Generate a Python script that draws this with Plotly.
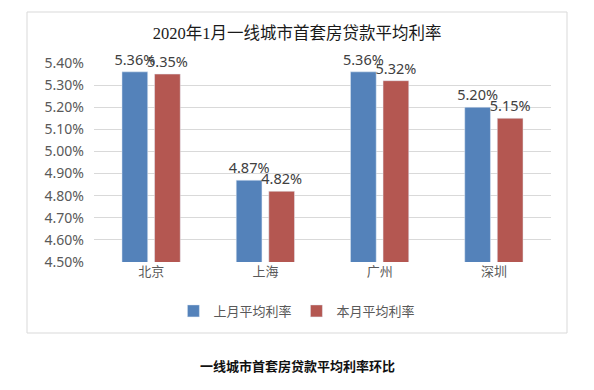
import plotly.graph_objects as go

cities = ["北京", "上海", "广州", "深圳"]
last_month = [5.36, 4.87, 5.36, 5.20]
this_month = [5.35, 4.82, 5.32, 5.15]
series_names = ["上月平均利率", "本月平均利率"]
title_text = "2020年1月一线城市首套房贷款平均利率"
caption_text = "一线城市首套房贷款平均利率环比"

sans = "Noto Sans, Noto Sans CJK SC, sans-serif"
cjk = "Noto Sans CJK SC, sans-serif"

fig = go.Figure()
for name, vals, color in [(series_names[0], last_month, "#5482BA"),
                          (series_names[1], this_month, "#B45751")]:
    fig.add_trace(go.Bar(
        x=cities, y=vals, name=name, marker_color=color,
        text=[f"{v:.2f}%" for v in vals], textposition="outside",
        textfont=dict(family=sans, size=14.5, color="#404040"),
        cliponaxis=False, textangle=0, constraintext="none",
    ))

fig.update_layout(
    width=594, height=390,
    margin=dict(l=94, r=43, t=63, b=128),
    paper_bgcolor="white", plot_bgcolor="white",
    barmode="group", bargap=0.43, bargroupgap=0.21,
    title=dict(text=title_text, x=0.5, xanchor="center", y=1 - 33 / 390, yanchor="middle",
               font=dict(family="Liberation Serif, Noto Sans CJK SC, serif", size=16.5, color="#1a1a1a")),
    yaxis=dict(range=[4.5, 5.4], dtick=0.1, tick0=4.5, tickformat=".2f", ticksuffix="%",
               showgrid=True, gridcolor="#D9D9D9", gridwidth=1, zeroline=False,
               showline=False, ticks="", ticklabelstandoff=9,
               tickfont=dict(family=sans, size=14, color="#595959")),
    xaxis=dict(showline=False, ticks="", tickfont=dict(family=cjk, size=13, color="#595959")),
    legend=dict(orientation="h", x=0.444, xanchor="center", y=-0.246, yanchor="middle",
                font=dict(family=cjk, size=13, color="#595959"), itemwidth=30,
                traceorder="normal"),
    showlegend=True,
)

fig.add_shape(type="rect", xref="paper", yref="paper",
              x0=(27 - 94) / 457, x1=(567 - 94) / 457,
              y0=(262 - 333) / 199, y1=(262 - 12) / 199,
              line=dict(color="#D9D9D9", width=1), fillcolor="rgba(0,0,0,0)", layer="below")

fig.add_annotation(text=f"<b>{caption_text}</b>", xref="paper", yref="paper",
                   x=(297 - 94) / 457, y=(262 - 365) / 199, showarrow=False,
                   xanchor="center", yanchor="middle",
                   font=dict(family=cjk, size=13, color="#111111"))

fig.write_html("out.html", config={"displayModeBar": False},
               post_script="document.body.style.margin='0';")
